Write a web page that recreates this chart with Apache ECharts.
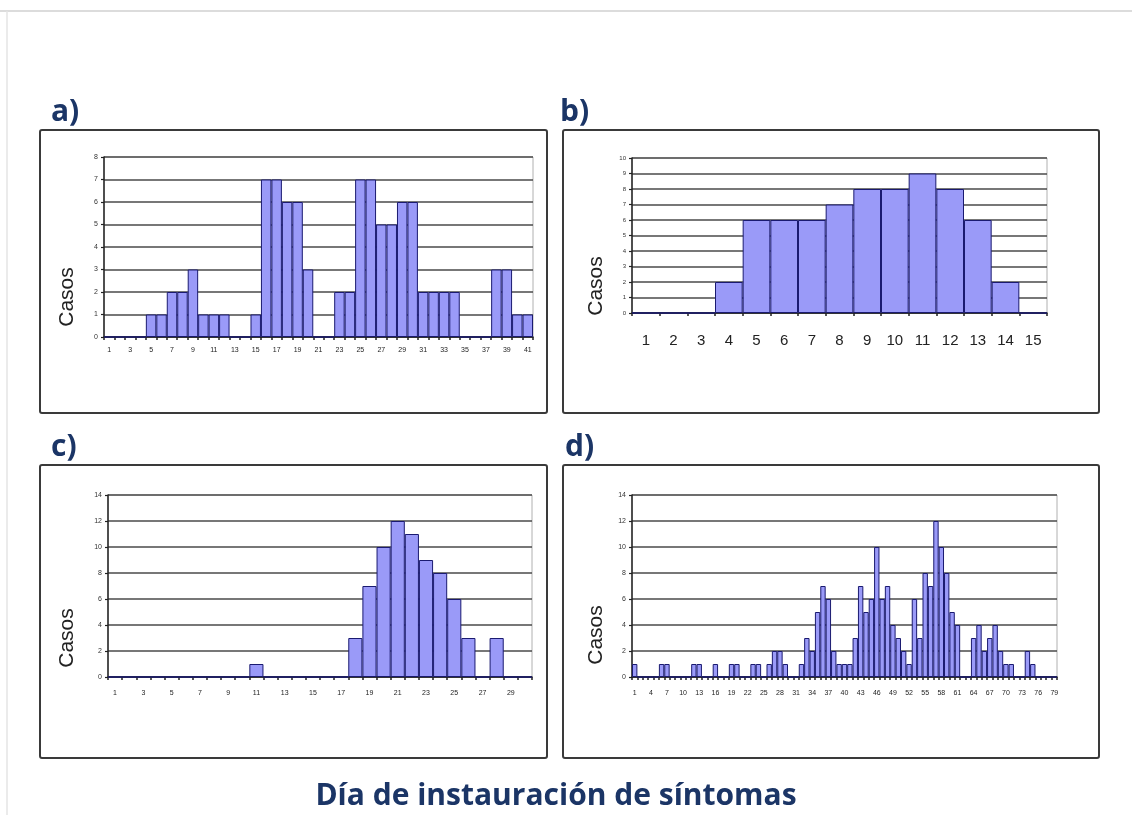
<!DOCTYPE html>
<html>
<head>
<meta charset="utf-8">
<script src="https://cdn.jsdelivr.net/npm/echarts@6/dist/echarts.min.js"></script>
<style>
  html, body { margin: 0; padding: 0; background: #fff; }
  #chart { width: 1132px; height: 815px; }
</style>
</head>
<body>
<div id="chart"></div>
<script>
// Day-of-onset categories for each outbreak panel
function days(n) { const d = []; for (let i = 1; i <= n; i++) d.push(String(i)); return d; }
const daysA = days(41);
const daysB = days(15);
const daysC = days(30);
const daysD = days(79);

// Cases per day
const casosA = [0,0,0,0,1,1,2,2,3,1,1,1,0,0,1,7,7,6,6,3,0,0,2,2,7,7,5,5,6,6,2,2,2,2,0,0,0,3,3,1,1];
const casosB = [0,0,0,2,6,6,6,7,8,8,9,8,6,2,0];
const casosC = [0,0,0,0,0,0,0,0,0,0,1,0,0,0,0,0,0,3,7,10,12,11,9,8,6,3,0,3,0,0];
const casosD = [1,0,0,0,0,1,1,0,0,0,0,1,1,0,0,1,0,0,1,1,
                0,0,1,1,0,1,2,2,1,0,
                0,1,3,2,5,7,6,2,1,1,
                1,3,7,5,6,10,6,7,4,3,
                2,1,6,3,8,7,12,10,8,5,
                4,0,0,3,4,2,3,4,2,1,
                1,0,0,2,1,0,0,0,0];

// Y-axis ranges
const yMax = [8, 10, 14, 14];
const yStep = [1, 1, 2, 2];
// Every n-th day is labelled on the x-axis
const xLabelSkip = [1, 0, 1, 2];

const panelLetters = ['a)', 'b)', 'c)', 'd)'];
const yName = 'Casos';
const footerTitle = 'Día de instauración de síntomas';

const cats = [daysA, daysB, daysC, daysD];
const vals = [casosA, casosB, casosC, casosD];

const grids = [
  { left: 104, top: 157, width: 429, height: 180 },
  { left: 632, top: 158, width: 415, height: 155 },
  { left: 108, top: 495, width: 424, height: 182 },
  { left: 632, top: 495, width: 425, height: 182 }
];
const xFont = [7, 15, 7, 7];
const xMargin = [10, 20, 13, 13];
const yFont = [7, 6, 7, 7];

const boxes = [
  { x: 40, y: 130, w: 507, h: 283 },
  { x: 563, y: 130, w: 536, h: 283 },
  { x: 40, y: 465, w: 507, h: 293 },
  { x: 563, y: 465, w: 536, h: 293 }
];
const letterPos = [[51, 127], [560, 127], [51, 462], [565, 462]];
const casosPos = [[67, 297], [596, 286], [67, 638], [596, 635]];

const titleColor = '#1b3566';
const axisFont = 'Liberation Sans, Arial, sans-serif';

const option = {
  animation: false,
  backgroundColor: '#ffffff',
  grid: grids.map(g => Object.assign({ show: true, borderColor: '#b0b0b0', borderWidth: 1, backgroundColor: 'transparent' }, g)),
  xAxis: cats.map((c, i) => ({
    type: 'category',
    gridIndex: i,
    data: c,
    boundaryGap: true,
    axisLine: { show: true, lineStyle: { color: '#222', width: 1.5 } },
    axisTick: { show: true, interval: 0, length: 3, lineStyle: { color: '#222', width: 1.5 } },
    axisLabel: { interval: xLabelSkip[i], fontSize: xFont[i], color: '#222', fontFamily: axisFont, margin: xMargin[i] },
    splitLine: { show: false }
  })),
  yAxis: yMax.map((m, i) => ({
    type: 'value',
    gridIndex: i,
    min: 0,
    max: m,
    interval: yStep[i],
    axisLine: { show: true, lineStyle: { color: '#222', width: 1.5 } },
    axisTick: { show: true, length: 3, lineStyle: { color: '#222', width: 1.2 } },
    axisLabel: { fontSize: yFont[i], color: '#333', fontFamily: axisFont, margin: 6 },
    splitLine: { show: true, lineStyle: { color: '#4a4a4a', width: 1.5 } }
  })),
  series: vals.map((v, i) => ({
    type: 'bar',
    xAxisIndex: i,
    yAxisIndex: i,
    data: v,
    barCategoryGap: '0%',
    itemStyle: { color: '#9a9af8', borderColor: '#1a1a70', borderWidth: 1 }
  })),
  graphic: [].concat(
    // faint page frame
    [
      { type: 'line', shape: { x1: 0, y1: 11, x2: 1132, y2: 11 }, style: { stroke: '#dcdcdc', lineWidth: 2 } },
      { type: 'line', shape: { x1: 7, y1: 11, x2: 7, y2: 815 }, style: { stroke: '#e4e4e4', lineWidth: 1.5 } }
    ],
    boxes.map(b => ({
      type: 'rect', z: -1,
      shape: { x: b.x, y: b.y, width: b.w, height: b.h, r: 2 },
      style: { fill: 'transparent', stroke: '#3a3a3a', lineWidth: 2 }
    })),
    panelLetters.map((t, i) => ({
      type: 'text', x: letterPos[i][0], y: letterPos[i][1],
      style: { text: t, fill: titleColor, font: 'bold 30px "Open Sans", Lato, sans-serif', textVerticalAlign: 'bottom' }
    })),
    casosPos.map(p => ({
      type: 'text', x: p[0], y: p[1], rotation: Math.PI / 2,
      style: { text: yName, fill: '#222', font: '21px "Liberation Sans", Arial, sans-serif', textAlign: 'center', textVerticalAlign: 'middle' }
    })),
    [{
      type: 'text', x: 556, y: 796,
      style: { text: footerTitle, fill: titleColor, font: 'bold 30px "Open Sans", Lato, sans-serif', textAlign: 'center', textVerticalAlign: 'middle' }
    }]
  )
};

const chart = echarts.init(document.getElementById('chart'), null, { renderer: 'canvas' });
chart.setOption(option);
</script>
</body>
</html>
